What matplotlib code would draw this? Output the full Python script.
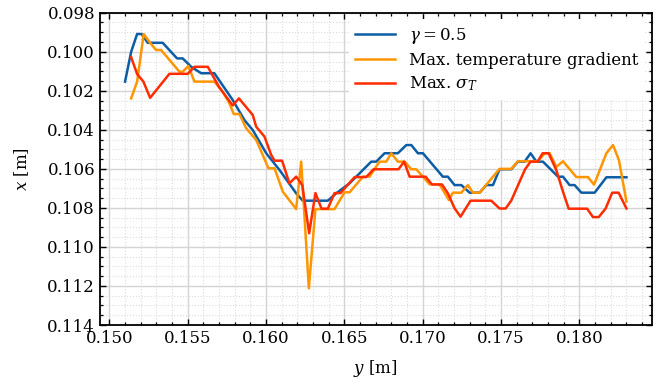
import numpy as np
import matplotlib
matplotlib.use("Agg")
import matplotlib.pyplot as plt
from matplotlib.ticker import MultipleLocator

plt.rcParams['font.family'] = ['DejaVu Serif']
plt.rcParams['mathtext.fontset'] = 'dejavuserif'

# gamma = 0.5
y_gamma = [0.15100, 0.15139, 0.15177, 0.15206, 0.15245, 0.15340, 0.15432, 0.15468, 0.15522, 0.15586,
           0.15670, 0.15787, 0.15862, 0.15915, 0.16001, 0.16086, 0.16192, 0.16234, 0.16394, 0.16448,
           0.16533, 0.16671, 0.16703, 0.16756, 0.16841, 0.16895, 0.16927, 0.16969, 0.17001, 0.17128,
           0.17160, 0.17203, 0.17246, 0.17299, 0.17363, 0.17406, 0.17448, 0.17490, 0.17565, 0.17607,
           0.17650, 0.17688, 0.17725, 0.17767, 0.17863, 0.17895, 0.17937, 0.17969, 0.18012, 0.18097,
           0.18172, 0.18300]
x_gamma = [0.10153, 0.10000, 0.09909, 0.09909, 0.09954, 0.09954, 0.10034, 0.10034, 0.10077, 0.10110,
           0.10110, 0.10247, 0.10350, 0.10401, 0.10520, 0.10606, 0.10725, 0.10763, 0.10763, 0.10725,
           0.10674, 0.10563, 0.10563, 0.10520, 0.10520, 0.10478, 0.10478, 0.10520, 0.10520, 0.10640,
           0.10640, 0.10683, 0.10683, 0.10722, 0.10722, 0.10683, 0.10683, 0.10602, 0.10602, 0.10563,
           0.10563, 0.10520, 0.10563, 0.10563, 0.10640, 0.10640, 0.10683, 0.10683, 0.10722, 0.10722,
           0.10643, 0.10643]

# max. temperature gradient
y_grad = [0.15139, 0.15177, 0.15219, 0.15255, 0.15298, 0.15330, 0.15447, 0.15468, 0.15504, 0.15543,
          0.15670, 0.15724, 0.15766, 0.15794, 0.15830, 0.15873, 0.15937, 0.15971, 0.16015, 0.16054,
          0.16107, 0.16192, 0.16224, 0.16273, 0.16315, 0.16437, 0.16501, 0.16533, 0.16618, 0.16660,
          0.16724, 0.16767, 0.16799, 0.16841, 0.16884, 0.16927, 0.16958, 0.17001, 0.17043, 0.17107,
          0.17167, 0.17192, 0.17246, 0.17288, 0.17320, 0.17363, 0.17490, 0.17565, 0.17607, 0.17735,
          0.17778, 0.17810, 0.17852, 0.17895, 0.17980, 0.18054, 0.18093, 0.18172, 0.18214, 0.18252,
          0.18300]
x_grad = [0.10239, 0.10153, 0.09909, 0.09949, 0.09991, 0.09991, 0.10102, 0.10102, 0.10073, 0.10153,
          0.10153, 0.10205, 0.10264, 0.10319, 0.10319, 0.10392, 0.10452, 0.10514, 0.10597, 0.10597,
          0.10717, 0.10806, 0.10563, 0.11212, 0.10806, 0.10806, 0.10720, 0.10720, 0.10640, 0.10640,
          0.10563, 0.10563, 0.10520, 0.10563, 0.10563, 0.10602, 0.10602, 0.10640, 0.10679, 0.10679,
          0.10760, 0.10722, 0.10722, 0.10683, 0.10722, 0.10722, 0.10600, 0.10600, 0.10561, 0.10561,
          0.10520, 0.10520, 0.10590, 0.10561, 0.10642, 0.10642, 0.10681, 0.10520, 0.10478, 0.10555,
          0.10768]

# max. sigma_T
y_sig = [0.15139, 0.15177, 0.15217, 0.15260, 0.15383, 0.15500, 0.15543, 0.15628, 0.15702, 0.15787,
         0.15827, 0.15915, 0.15937, 0.15990, 0.16033, 0.16054, 0.16102, 0.16149, 0.16192, 0.16231,
         0.16275, 0.16315, 0.16354, 0.16394, 0.16437, 0.16475, 0.16565, 0.16639, 0.16686, 0.16845,
         0.16881, 0.16916, 0.17018, 0.17059, 0.17123, 0.17160, 0.17203, 0.17241, 0.17305, 0.17437,
         0.17490, 0.17529, 0.17565, 0.17653, 0.17688, 0.17733, 0.17765, 0.17803, 0.17852, 0.17895,
         0.17931, 0.18049, 0.18086, 0.18123, 0.18167, 0.18209, 0.18250, 0.18300]
x_sig = [0.10028, 0.10114, 0.10153, 0.10236, 0.10113, 0.10113, 0.10077, 0.10077, 0.10183, 0.10275,
         0.10239, 0.10324, 0.10384, 0.10435, 0.10529, 0.10558, 0.10558, 0.10674, 0.10640, 0.10683,
         0.10930, 0.10724, 0.10804, 0.10804, 0.10724, 0.10724, 0.10642, 0.10642, 0.10602, 0.10602,
         0.10563, 0.10640, 0.10640, 0.10680, 0.10680, 0.10725, 0.10802, 0.10845, 0.10763, 0.10763,
         0.10803, 0.10803, 0.10762, 0.10602, 0.10563, 0.10563, 0.10520, 0.10520, 0.10606, 0.10717,
         0.10804, 0.10804, 0.10847, 0.10847, 0.10803, 0.10722, 0.10722, 0.10803]

labels = [r'$\gamma = 0.5$', 'Max. temperature gradient', r'Max. $\sigma_T$']
colors = ['#0C5DA5', '#FF9500', '#FF2C00']

fig = plt.figure(figsize=(6.71, 3.86), dpi=100)
ax = fig.add_axes([0.149, 0.158, 0.822, 0.809])

ax.plot(y_gamma, x_gamma, color=colors[0], lw=1.8, label=labels[0])
ax.plot(y_grad, x_grad, color=colors[1], lw=1.8, label=labels[1])
ax.plot(y_sig, x_sig, color=colors[2], lw=1.8, label=labels[2])

ax.set_xlim(0.1494, 0.1846)
ax.set_ylim(0.114, 0.098)
ax.xaxis.set_major_locator(MultipleLocator(0.005))
ax.xaxis.set_minor_locator(MultipleLocator(0.001))
ax.yaxis.set_major_locator(MultipleLocator(0.002))
ax.yaxis.set_minor_locator(MultipleLocator(0.0005))
ax.xaxis.set_major_formatter(plt.FormatStrFormatter('%.3f'))
ax.yaxis.set_major_formatter(plt.FormatStrFormatter('%.3f'))

ax.grid(which='major', color='#d4d4d4', lw=1.0, ls='-')
ax.grid(which='minor', color='#dcdcdc', lw=0.8, ls=':')
ax.set_axisbelow(True)

ax.tick_params(which='both', direction='in', top=True, right=True, labelsize=12)
ax.tick_params(which='major', length=4.5, width=1.0)
ax.tick_params(which='minor', length=2.5, width=0.9)
for s in ax.spines.values():
    s.set_linewidth(1.3)

ax.set_xlabel(r'$y$ [m]', fontsize=12, labelpad=8)
ax.set_ylabel(r'$x$ [m]', fontsize=12, labelpad=12)

leg = ax.legend(loc='upper right', fontsize=12, frameon=True, framealpha=1,
                edgecolor='none', fancybox=False, handlelength=2.4, borderaxespad=0.4,
                labelspacing=0.35)

fig.savefig('out.png', dpi=100)
